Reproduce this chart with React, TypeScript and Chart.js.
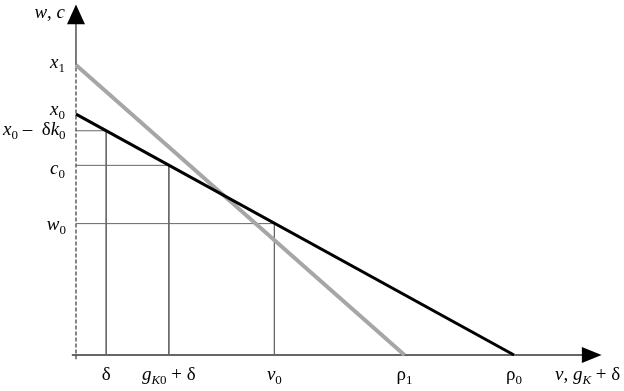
import { useEffect, useRef } from 'react';
import { Chart, registerables } from 'chart.js';
Chart.register(...registerables);

// Axis ranges (data units)
const xRange = [-0.1, 12.0];
const yRange = [-0.1, 8.0];
const xAxisEnd = 11.6;
const yAxisEnd = 7.6;

// Curves
const blackLineX = [0, 10.0];
const blackLineY = [5.5, 0];
const grayLineX = [0, 7.5];
const grayLineY = [6.62, 0];

// Guide points on the black line
const guideX = [0.69, 2.12, 4.53];
const guideY = [5.12, 4.33, 3.0];

// Tick labels
const xTickValues = [0.69, 2.12, 4.53, 7.5, 10.0];
const xTickLabels = ['δ', 'g_{K0} + δ', 'v_0', 'ρ_1', 'ρ_0'];
const yTickValues = [6.62, 5.5, 5.12, 4.33, 3.0];
const yTickLabels = ['x_1', 'x_0', 'x_0 –  δk_0', 'c_0', 'w_0'];
const xAxisTitle = 'v, g_K + δ';
const yAxisTitle = 'w, c';

const FONT = '"Liberation Serif", "DejaVu Serif", serif';
const MAIN = 19;
const SUB = 13;

type Seg = { t: string; italic: boolean; sub: boolean };

function parse(str: string): Seg[] {
  const segs: Seg[] = [];
  const push = (ch: string, sub: boolean) => {
    const italic = /[A-Za-z]/.test(ch);
    const last = segs[segs.length - 1];
    if (last && last.italic === italic && last.sub === sub) last.t += ch;
    else segs.push({ t: ch, italic, sub });
  };
  for (let i = 0; i < str.length; i++) {
    const c = str[i];
    if (c === '_') {
      if (str[i + 1] === '{') {
        const end = str.indexOf('}', i);
        for (const ch of str.slice(i + 2, end)) push(ch, true);
        i = end;
      } else {
        push(str[i + 1], true);
        i++;
      }
    } else push(c, false);
  }
  return segs;
}

function fontFor(s: Seg) {
  return `${s.italic ? 'italic ' : ''}${s.sub ? SUB : MAIN}px ${FONT}`;
}

function drawRich(ctx: CanvasRenderingContext2D, str: string, x: number, y: number, align: 'left' | 'right' | 'center') {
  const segs = parse(str);
  let w = 0;
  const widths = segs.map((s) => {
    ctx.font = fontFor(s);
    const m = ctx.measureText(s.t).width;
    w += m;
    return m;
  });
  let cx = align === 'left' ? x : align === 'right' ? x - w : x - w / 2;
  ctx.textAlign = 'left';
  ctx.textBaseline = 'alphabetic';
  ctx.fillStyle = '#000';
  segs.forEach((s, i) => {
    ctx.font = fontFor(s);
    ctx.fillText(s.t, cx, y + (s.sub ? 4 : 0));
    cx += widths[i];
  });
}

const yLabelNudge = [3, 1, 4, 9, 6];
const yLabelX = [65, 65, 3, 65, 66];
const yLabelAlign: ('left' | 'right')[] = ['right', 'right', 'left', 'right', 'right'];

const decorPlugin = {
  id: 'decor',
  afterDraw(chart: any) {
    const ctx: CanvasRenderingContext2D = chart.ctx;
    const xs = chart.scales.x;
    const ys = chart.scales.y;
    const ox = xs.getPixelForValue(0);
    const oy = ys.getPixelForValue(0);
    ctx.save();
    // arrows
    ctx.fillStyle = '#000';
    const topTip = ys.getPixelForValue(yRange[1]);
    const topBase = ys.getPixelForValue(yAxisEnd - 0.05);
    ctx.beginPath();
    ctx.moveTo(ox, topTip);
    ctx.lineTo(ox + 9, topBase);
    ctx.lineTo(ox - 9, topBase);
    ctx.closePath();
    ctx.fill();
    const rTip = xs.getPixelForValue(xRange[1]);
    const rBase = xs.getPixelForValue(xAxisEnd - 0.05);
    ctx.beginPath();
    ctx.moveTo(rTip, oy);
    ctx.lineTo(rBase, oy - 8);
    ctx.lineTo(rBase, oy + 8);
    ctx.closePath();
    ctx.fill();
    // y labels
    yTickValues.forEach((v, i) => {
      drawRich(ctx, yTickLabels[i], yLabelX[i], ys.getPixelForValue(v) + yLabelNudge[i], yLabelAlign[i]);
    });
    // x labels
    xTickValues.forEach((v, i) => {
      drawRich(ctx, xTickLabels[i], xs.getPixelForValue(v), oy + 25, 'center');
    });
    drawRich(ctx, yAxisTitle, 65, 18, 'right');
    drawRich(ctx, xAxisTitle, 555, oy + 25, 'left');
    ctx.restore();
  },
};

export default function App() {
  const ref = useRef<HTMLCanvasElement>(null);
  useEffect(() => {
    if (!ref.current) return;
    const line = (data: { x: number; y: number }[], color: string, width: number, dash: number[] = []) => ({
      data,
      showLine: true,
      borderColor: color,
      borderWidth: width,
      borderDash: dash,
      pointRadius: 0,
      fill: false,
      tension: 0,
    });
    const datasets: any[] = [
      line(blackLineX.map((x, i) => ({ x, y: blackLineY[i] })), '#000', 3),
      line(grayLineX.map((x, i) => ({ x, y: grayLineY[i] })), '#a6a6a6', 4),
      ...guideX.map((gx, i) =>
        line([{ x: 0, y: guideY[i] }, { x: gx, y: guideY[i] }, { x: gx, y: 0 }], '#666', 1)
      ),
      line([{ x: xRange[0], y: 0 }, { x: xAxisEnd, y: 0 }], '#333', 1.3),
      line([{ x: 0, y: grayLineY[0] }, { x: 0, y: yAxisEnd }], '#333', 1.3),
      line([{ x: 0, y: yRange[0] }, { x: 0, y: grayLineY[0] }], '#444', 1.3, [4, 2]),
    ];
    const chart = new Chart(ref.current, {
      type: 'scatter',
      data: { datasets },
      options: {
        animation: false,
        responsive: false,
        events: [],
        layout: { padding: { left: 71.6, right: 22.4, top: 4.6, bottom: 31.6 } },
        plugins: { legend: { display: false }, tooltip: { enabled: false } },
        scales: {
          x: { type: 'linear', min: xRange[0], max: xRange[1], display: false },
          y: { type: 'linear', min: yRange[0], max: yRange[1], display: false },
        },
      },
      plugins: [decorPlugin],
    });
    return () => chart.destroy();
  }, []);
  return (
    <div style={{ position: 'absolute', left: 0, top: 0, width: 624, height: 391, background: '#fff' }}>
      <canvas ref={ref} width={624} height={391} />
    </div>
  );
}
